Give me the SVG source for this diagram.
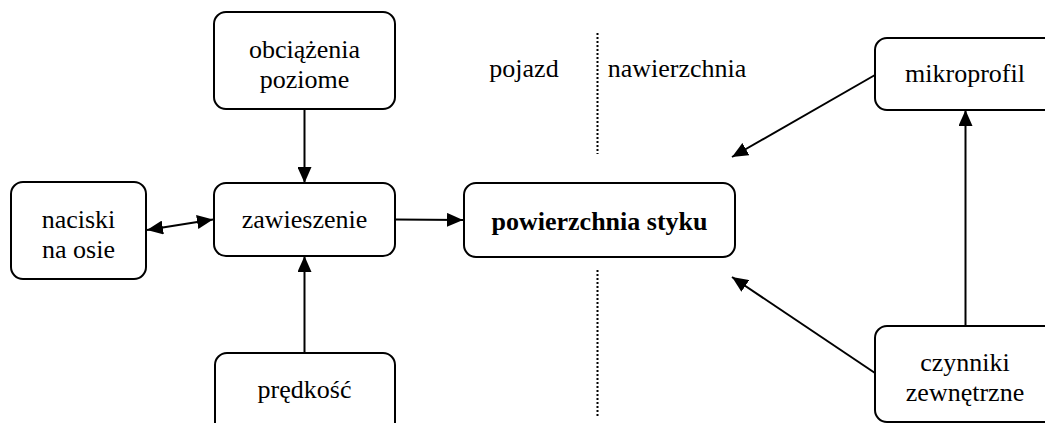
<svg xmlns="http://www.w3.org/2000/svg" width="1045" height="423" viewBox="0 0 1045 423">
<style>
.box{fill:#fff;stroke:#000;stroke-width:2}
.t{font-family:'Liberation Serif','Times New Roman','DejaVu Serif',serif;font-size:26px;fill:#000;text-anchor:middle}
.b{font-weight:bold}
.c{stroke:#000;stroke-width:2;fill:none}
.d{stroke:#000;stroke-width:2;stroke-dasharray:2 2;fill:none}
</style>
<defs>
<marker id="ah" markerWidth="16" markerHeight="14" refX="16" refY="7" orient="auto" markerUnits="userSpaceOnUse">
<path d="M0,0 L16,7 L0,14 Z" fill="#000"/>
</marker>
<marker id="as" markerWidth="16" markerHeight="14" refX="0" refY="7" orient="auto" markerUnits="userSpaceOnUse">
<path d="M16,0 L0,7 L16,14 Z" fill="#000"/>
</marker>
</defs>
<g id="connectors">
<line class="c" x1="304.5" y1="109" x2="304.5" y2="183" marker-end="url(#ah)"/>
<line class="c" x1="304.5" y1="354" x2="304.5" y2="256" marker-end="url(#ah)"/>
<line class="c" x1="147" y1="230" x2="213" y2="219.5" marker-start="url(#as)" marker-end="url(#ah)"/>
<line class="c" x1="395" y1="219.5" x2="463" y2="220" marker-end="url(#ah)"/>
<line class="c" x1="875" y1="75" x2="732" y2="157" marker-end="url(#ah)"/>
<line class="c" x1="875" y1="373" x2="732" y2="277" marker-end="url(#ah)"/>
<line class="c" x1="965.5" y1="326" x2="965.5" y2="110" marker-end="url(#ah)"/>
</g>
<g id="divider">
<line class="d" x1="597.5" y1="33" x2="597.5" y2="154"/>
<line class="d" x1="597.5" y1="270" x2="597.5" y2="418"/>
<text class="t" x="524" y="77" font-family="Liberation Serif">pojazd</text>
<text class="t" x="677" y="77" font-family="Liberation Serif">nawierzchnia</text>
</g>
<g id="obciazenia">
<rect class="box" x="214" y="12" width="181" height="97" rx="12"/>
<text class="t" x="304.5" y="58">obciążenia</text>
<text class="t" x="304.5" y="88">poziome</text>
</g>
<g id="zawieszenie">
<rect class="box" x="214" y="183" width="181" height="73" rx="12"/>
<text class="t" x="304.5" y="228">zawieszenie</text>
</g>
<g id="naciski">
<rect class="box" x="11" y="182" width="135" height="97" rx="12"/>
<text class="t" x="78.5" y="228">naciski</text>
<text class="t" x="78.5" y="258">na osie</text>
</g>
<g id="predkosc">
<rect class="box" x="215" y="353" width="180" height="100" rx="12"/>
<text class="t" x="304.5" y="398">prędkość</text>
</g>
<g id="powierzchnia">
<rect class="box" x="464" y="183" width="271" height="74" rx="12"/>
<text class="t b" x="599.5" y="230">powierzchnia styku</text>
</g>
<g id="mikroprofil">
<rect class="box" x="875" y="38" width="190" height="72" rx="12"/>
<text class="t" x="965" y="82">mikroprofil</text>
</g>
<g id="czynniki">
<rect class="box" x="875" y="326" width="190" height="96" rx="12"/>
<text class="t" x="965" y="371">czynniki</text>
<text class="t" x="965" y="401">zewnętrzne</text>
</g>
</svg>
